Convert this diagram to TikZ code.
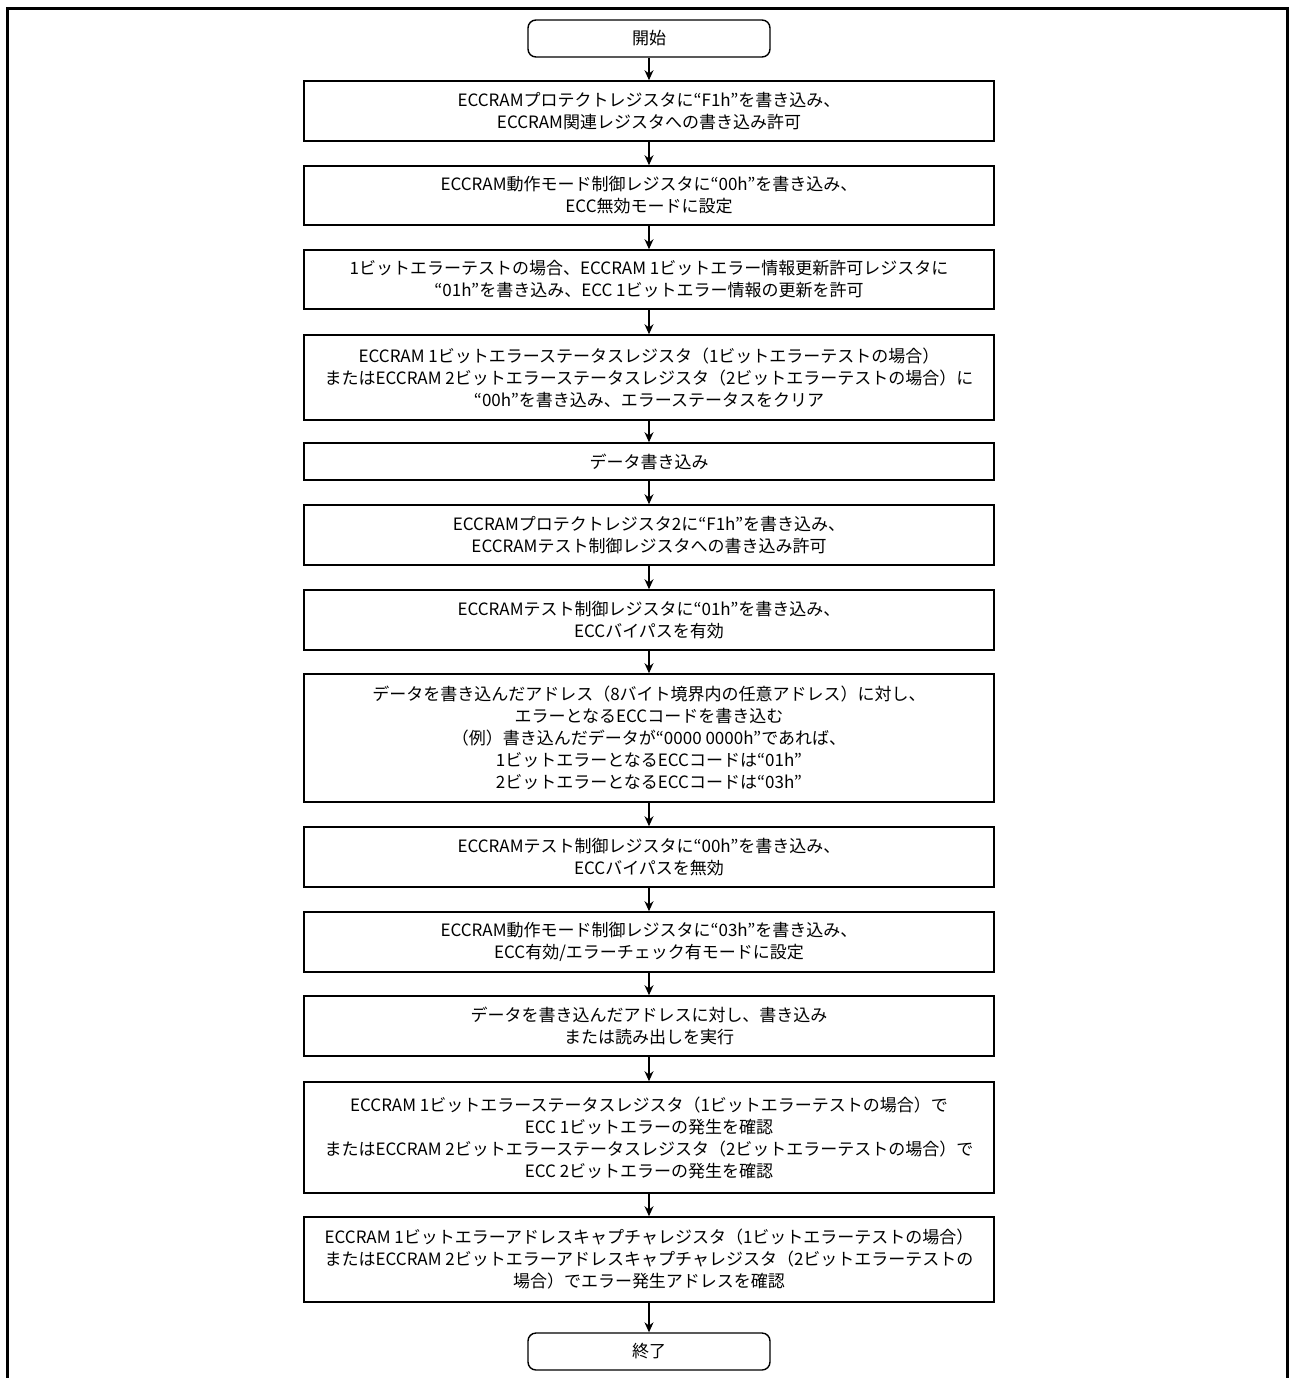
\documentclass[tikz,border=0pt]{standalone}
\usepackage{fontspec}
\setmainfont{Noto Sans CJK JP}
\usepackage{tikz}
\usetikzlibrary{shapes.geometric, arrows, arrows.meta, positioning, calc}
\tikzstyle{terminal} = [rectangle, rounded corners=4pt, minimum width=121pt, minimum height=18.5pt,
                        text centered, draw=black, line width=0.7pt]
\tikzstyle{stepbox}  = [rectangle, minimum width=345pt, minimum height=30pt, align=center,
                        draw=black, line width=0.8pt, inner sep=1pt]
\tikzstyle{arrow}    = [line width=0.6pt, -{Stealth[length=5pt, width=4.5pt]}]

\begin{document}
\begin{tikzpicture}[x=0.5pt, y=-0.5pt, every node/.style={font=\fontsize{8.5pt}{11pt}\selectfont}]

  \useasboundingbox (0,0) rectangle (1290,1378);

  % Outer frame (open at the bottom)
  \draw[line width=1.5pt] (7.5,1378) -- (7.5,8) -- (1287.5,8) -- (1287.5,1378);

  % Start / end
  \node (start) [terminal] at (649,38.5)   {開始};
  \node (stop)  [terminal] at (649,1351.5) {終了};

  % Steps
  \node (s1)  [stepbox, minimum height=30pt] at (649,111)
    {ECCRAMプロテクトレジスタに“F1h”を書き込み、\\ECCRAM関連レジスタへの書き込み許可};
  \node (s2)  [stepbox, minimum height=29.5pt] at (649,195.5)
    {ECCRAM動作モード制御レジスタに“00h”を書き込み、\\ECC無効モードに設定};
  \node (s3)  [stepbox, minimum height=29.5pt] at (649,279.5)
    {1ビットエラーテストの場合、ECCRAM 1ビットエラー情報更新許可レジスタに\\“01h”を書き込み、ECC 1ビットエラー情報の更新を許可};
  \node (s4)  [stepbox, minimum height=42.5pt] at (649,377.5)
    {ECCRAM 1ビットエラーステータスレジスタ（1ビットエラーテストの場合）\\またはECCRAM 2ビットエラーステータスレジスタ（2ビットエラーテストの場合）に\\“00h”を書き込み、エラーステータスをクリア};
  \node (s5)  [stepbox, minimum height=18.5pt] at (649,461.5)
    {データ書き込み};
  \node (s6)  [stepbox, minimum height=30pt] at (649,535)
    {ECCRAMプロテクトレジスタ2に“F1h”を書き込み、\\ECCRAMテスト制御レジスタへの書き込み許可};
  \node (s7)  [stepbox, minimum height=30pt] at (649,620)
    {ECCRAMテスト制御レジスタに“01h”を書き込み、\\ECCバイパスを有効};
  \node (s8)  [stepbox, minimum height=64pt] at (649,738)
    {データを書き込んだアドレス（8バイト境界内の任意アドレス）に対し、\\エラーとなるECCコードを書き込む\\（例）書き込んだデータが“0000 0000h”であれば、\\1ビットエラーとなるECCコードは“01h”\\2ビットエラーとなるECCコードは“03h”};
  \node (s9)  [stepbox, minimum height=30pt] at (649,857)
    {ECCRAMテスト制御レジスタに“00h”を書き込み、\\ECCバイパスを無効};
  \node (s10) [stepbox, minimum height=30pt] at (649,942)
    {ECCRAM動作モード制御レジスタに“03h”を書き込み、\\ECC有効/エラーチェック有モードに設定};
  \node (s11) [stepbox, minimum height=30pt] at (649,1026)
    {データを書き込んだアドレスに対し、書き込み\\または読み出しを実行};
  \node (s12) [stepbox, minimum height=55.5pt] at (649,1137.5)
    {ECCRAM 1ビットエラーステータスレジスタ（1ビットエラーテストの場合）で\\ECC 1ビットエラーの発生を確認\\またはECCRAM 2ビットエラーステータスレジスタ（2ビットエラーテストの場合）で\\ECC 2ビットエラーの発生を確認};
  \node (s13) [stepbox, minimum height=42.5pt] at (649,1259.5)
    {ECCRAM 1ビットエラーアドレスキャプチャレジスタ（1ビットエラーテストの場合）\\またはECCRAM 2ビットエラーアドレスキャプチャレジスタ（2ビットエラーテストの\\場合）でエラー発生アドレスを確認};

  % Flow
  \draw[arrow] (start) -- (s1);
  \draw[arrow] (s1) -- (s2);
  \draw[arrow] (s2) -- (s3);
  \draw[arrow] (s3) -- (s4);
  \draw[arrow] (s4) -- (s5);
  \draw[arrow] (s5) -- (s6);
  \draw[arrow] (s6) -- (s7);
  \draw[arrow] (s7) -- (s8);
  \draw[arrow] (s8) -- (s9);
  \draw[arrow] (s9) -- (s10);
  \draw[arrow] (s10) -- (s11);
  \draw[arrow] (s11) -- (s12);
  \draw[arrow] (s12) -- (s13);
  \draw[arrow] (s13) -- (stop);

\end{tikzpicture}
\end{document}
